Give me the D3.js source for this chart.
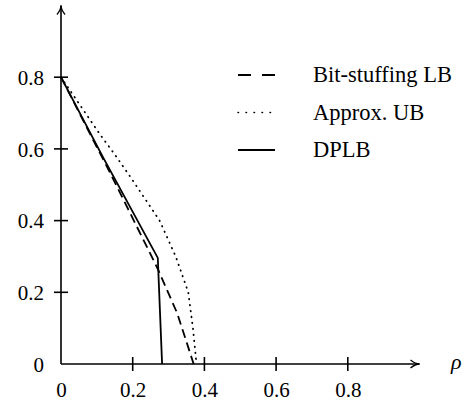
<!DOCTYPE html>
<html lang="en">
<head>
<meta charset="UTF-8">
<title>Rate bounds</title>
<script src="https://cdn.jsdelivr.net/npm/d3@7"></script>
<style>
  body { margin: 0; background: #fff; }
  svg text { font-family: "Liberation Serif", "DejaVu Serif", serif !important; fill: #000; }
</style>
</head>
<body>
<svg id="chart"></svg>
<script>
const W = 470, H = 401;

// values
const rho = {
  bitStuffing: [0, 0.137, 0.248, 0.27, 0.324, 0.37],
  approxUB:    [0, 0.03, 0.109, 0.151, 0.192, 0.275, 0.32, 0.355, 0.368, 0.378],
  dplb:        [0, 0.117, 0.27, 0.282]
};
const rate = {
  bitStuffing: [0.8, 0.533, 0.31, 0.265, 0.142, 0],
  approxUB:    [0.8, 0.756, 0.64, 0.583, 0.524, 0.4, 0.3, 0.2, 0.1, 0],
  dplb:        [0.8, 0.577, 0.296, 0]
};
const seriesNames = ['Bit-stuffing LB', 'Approx. UB', 'DPLB'];
const seriesKeys = ['bitStuffing', 'approxUB', 'dplb'];
const xTicks = [0, 0.2, 0.4, 0.6, 0.8];
const yTicks = [0, 0.2, 0.4, 0.6, 0.8];

const svg = d3.select('#chart').attr('width', W).attr('height', H);

const x = d3.scaleLinear().domain([0, 1]).range([61, 419.5]);
const y = d3.scaleLinear().domain([0, 1]).range([364, 5.5]);

const dashes = { bitStuffing: '9,5', approxUB: '0.5,5.5', dplb: null };

// axes with arrows
svg.append('line').attr('x1', x(0)).attr('x2', x(1)).attr('y1', y(0)).attr('y2', y(0))
  .attr('stroke', '#000').attr('stroke-width', 1.6);
svg.append('line').attr('x1', x(0)).attr('x2', x(0)).attr('y1', y(0)).attr('y2', y(1))
  .attr('stroke', '#000').attr('stroke-width', 1.6);
svg.append('path')
  .attr('d', `M${x(1) - 9},${y(0) - 4} Q${x(1) - 4},${y(0)} ${x(1)},${y(0)} Q${x(1) - 4},${y(0)} ${x(1) - 9},${y(0) + 4}`)
  .attr('fill', 'none').attr('stroke', '#000').attr('stroke-width', 1.3);
svg.append('path')
  .attr('d', `M${x(0) - 4},${y(1) + 9} Q${x(0)},${y(1) + 4} ${x(0)},${y(1)} Q${x(0)},${y(1) + 4} ${x(0) + 4},${y(1) + 9}`)
  .attr('fill', 'none').attr('stroke', '#000').attr('stroke-width', 1.3);

// crossing tick marks
svg.selectAll('.xt').data(xTicks.filter(d => d > 0)).enter().append('line')
  .attr('x1', d => x(d)).attr('x2', d => x(d))
  .attr('y1', y(0) - 7).attr('y2', y(0) + 7)
  .attr('stroke', '#000').attr('stroke-width', 1.6);
svg.selectAll('.yt').data(yTicks.filter(d => d > 0)).enter().append('line')
  .attr('y1', d => y(d)).attr('y2', d => y(d))
  .attr('x1', x(0) - 7).attr('x2', x(0) + 7)
  .attr('stroke', '#000').attr('stroke-width', 1.6);

// tick labels through d3 axes
const fmt = d => d === 0 ? '0' : d3.format('.1f')(d);
const xAxis = svg.append('g').attr('transform', `translate(0,${y(0)})`)
  .call(d3.axisBottom(x).tickValues(xTicks).tickSize(0).tickPadding(18).tickFormat(fmt));
const yAxis = svg.append('g').attr('transform', `translate(${x(0)},0)`)
  .call(d3.axisLeft(y).tickValues(yTicks).tickSize(0).tickPadding(17).tickFormat(fmt));
[xAxis, yAxis].forEach(g => {
  g.attr('font-family', null).attr('font-size', null);
  g.select('.domain').remove();
  g.selectAll('text').style('font-family', '"Liberation Serif", serif').style('font-size', '21px').attr('fill', '#000');
});
yAxis.selectAll('text').attr('dy', '0.35em');

svg.append('text').attr('x', 451).attr('y', 369)
  .style('font-size', '22px').style('font-style', 'italic').text('ρ');

// curves
const line = d3.line().x(d => x(d[0])).y(d => y(d[1]));
seriesKeys.forEach(k => {
  const pts = rho[k].map((r, i) => [r, rate[k][i]]);
  svg.append('path').datum(pts).attr('d', line)
    .attr('fill', 'none').attr('stroke', '#000')
    .attr('stroke-width', 1.8)
    .attr('stroke-linecap', k === 'approxUB' ? 'round' : 'butt')
    .attr('stroke-dasharray', dashes[k]);
});

// legend
const legend = svg.append('g');
seriesKeys.forEach((k, i) => {
  const yy = 75 + i * 37.5;
  legend.append('line').attr('x1', 238).attr('x2', 275).attr('y1', yy).attr('y2', yy)
    .attr('stroke', '#000').attr('stroke-width', k === 'approxUB' ? 1.5 : 1.8)
    .attr('stroke-linecap', k === 'approxUB' ? 'round' : 'butt')
    .attr('stroke-dasharray', k === 'bitStuffing' ? '13,11' : k === 'approxUB' ? '0.5,7.5' : null);
  legend.append('text').attr('x', 313).attr('y', yy + 7)
    .style('font-size', '22.5px').text(seriesNames[i]);
});
</script>
</body>
</html>
